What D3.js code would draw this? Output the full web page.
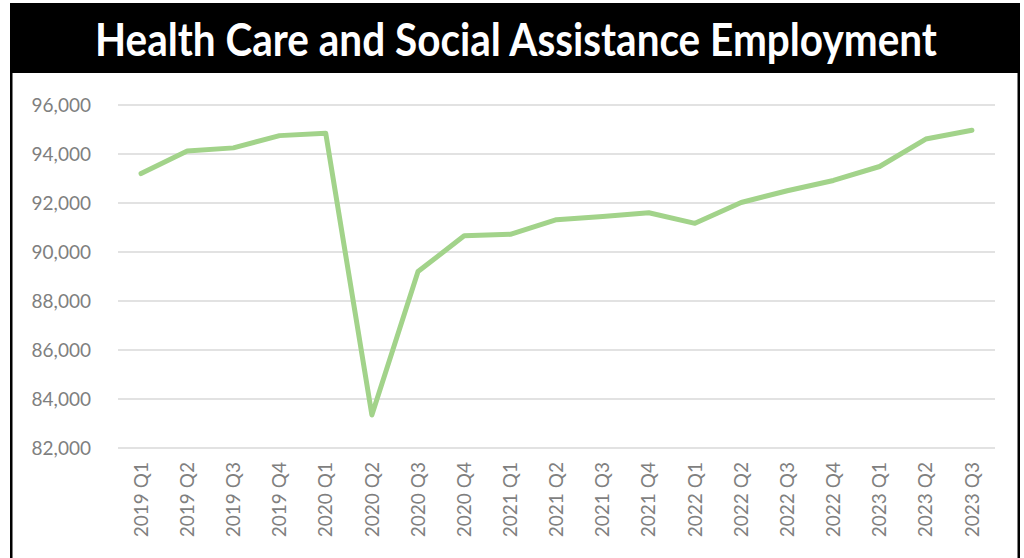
<!DOCTYPE html>
<html lang="en">
<head>
    <meta charset="UTF-8">
    <title>Health Care and Social Assistance Employment</title>
    <style>
        body { margin: 0; background: #fff; }
    </style>
</head>
<body>
<script src="https://cdn.jsdelivr.net/npm/d3@7"></script>
<script>
    const width = 1024;
    const height = 558;

    // quarters on the x axis
    const quarters = ["2019 Q1", "2019 Q2", "2019 Q3", "2019 Q4",
        "2020 Q1", "2020 Q2", "2020 Q3", "2020 Q4",
        "2021 Q1", "2021 Q2", "2021 Q3", "2021 Q4",
        "2022 Q1", "2022 Q2", "2022 Q3", "2022 Q4",
        "2023 Q1", "2023 Q2", "2023 Q3"];

    // employment
    const employment = [93200, 94120, 94250, 94750,
        94850, 83350, 89200, 90660,
        90720, 91320, 91450, 91600,
        91170, 92020, 92500, 92920,
        93490, 94610, 94970];

    const yTicks = [82000, 84000, 86000, 88000, 90000, 92000, 94000, 96000];

    const svg = d3.select("body")
        .append("svg")
        .attr("width", width)
        .attr("height", height);

    // frame: black title bar and side borders
    svg.append("rect")
        .attr("x", 10).attr("y", 3)
        .attr("width", 1010).attr("height", 70)
        .attr("fill", "#000");
    svg.append("rect")
        .attr("x", 10).attr("y", 3)
        .attr("width", 2.5).attr("height", height)
        .attr("fill", "#000");
    svg.append("rect")
        .attr("x", 1017.5).attr("y", 3)
        .attr("width", 2.5).attr("height", height)
        .attr("fill", "#000");

    // title, squeezed horizontally to the width of the original
    const title = svg.append("text")
        .attr("fill", "#fff")
        .attr("font-family", "Lato, 'Open Sans', sans-serif")
        .attr("font-weight", "bold")
        .attr("font-size", 45)
        .text("Health Care and Social Assistance Employment");
    const tw = title.node().getComputedTextLength();
    title.attr("transform", `translate(95,56) scale(${842 / tw},1)`);

    const x = d3.scaleBand()
        .domain(quarters)
        .range([118, 995]);

    const y = d3.scaleLinear()
        .domain([82000, 96000])
        .range([448, 105]);

    // gridlines
    svg.append("g")
        .selectAll("line")
        .data(yTicks)
        .enter().append("line")
        .attr("x1", 118)
        .attr("x2", 995)
        .attr("y1", d => y(d))
        .attr("y2", d => y(d))
        .attr("stroke", "#d9d9d9")
        .attr("stroke-width", 1.5);

    const yAxis = g => g
        .attr("transform", `translate(118,0)`)
        .call(d3.axisLeft(y).tickValues(yTicks).tickFormat(d3.format(",")).tickSize(0).tickPadding(27))
        .call(g => g.select(".domain").remove())
        .call(g => g.selectAll("text")
            .attr("fill", "#7f7f7f")
            .attr("font-family", "Lato, 'Open Sans', sans-serif")
            .attr("font-size", 19));

    const xAxis = g => g
        .attr("transform", `translate(0,448)`)
        .call(d3.axisBottom(x).tickSize(0))
        .call(g => g.select(".domain").remove())
        .call(g => g.selectAll("text")
            .attr("fill", "#7f7f7f")
            .attr("font-family", "Lato, 'Open Sans', sans-serif")
            .attr("font-size", 19)
            .attr("text-anchor", "end")
            .attr("dy", "0.35em")
            .attr("transform", "translate(0,14) rotate(-90)")
            .attr("x", 0)
            .attr("y", 0));

    svg.append("g").call(yAxis);
    svg.append("g").call(xAxis);

    const line = d3.line()
        .x((d, i) => x(quarters[i]) + x.bandwidth() / 2)
        .y(d => y(d));

    svg.append("path")
        .datum(employment)
        .attr("fill", "none")
        .attr("stroke", "#a2d38a")
        .attr("stroke-width", 5)
        .attr("stroke-linejoin", "round")
        .attr("stroke-linecap", "round")
        .attr("d", line);
</script>
</body>
</html>
